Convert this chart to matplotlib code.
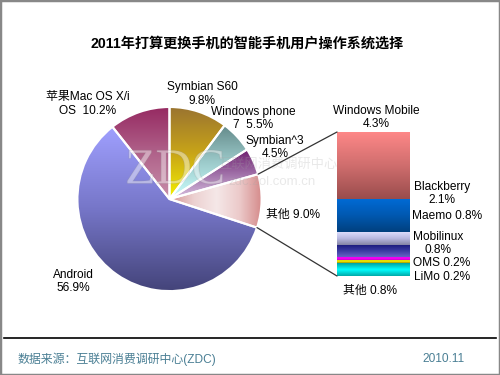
import numpy as np
import matplotlib
matplotlib.use("Agg")
import matplotlib.pyplot as plt
from matplotlib.colors import to_rgb
from matplotlib.patches import ConnectionPatch, Rectangle
import matplotlib.patheffects as pe

plt.rcParams['font.family'] = ['Liberation Sans', 'Noto Sans CJK SC', 'DejaVu Sans']

# ---------------- data ----------------
title = "2011年打算更换手机的智能手机用户操作系统选择"
pie_labels = ["Symbian S60", "Windows phone 7", "Symbian^3", "其他", "Android", "苹果Mac OS X/i OS"]
pie_values = [9.8, 5.5, 4.5, 9.0, 56.9, 10.2]
bar_labels = ["Windows Mobile", "Blackberry", "Maemo", "Mobilinux", "OMS", "LiMo", "其他"]
bar_values = [4.3, 2.1, 0.8, 0.8, 0.2, 0.2, 0.8]
source_text = "数据来源：互联网消费调研中心(ZDC)"
date_text = "2010.11"

# ---------------- styles ----------------
pie_grads = [
    (['#9a7430', '#c8a418', '#f4f000'], False),
    (['#648a8a', '#9ccaca', '#ccffff'], False),
    (['#6e1e6e', '#a070a8', '#d8c0e0'], False),
    (['#d49494', '#ecd0d0', '#f5e8e8', '#eccaca', '#d48888'], True),
    (['#a0a0ff', '#7676c8', '#44447a'], False),
    (['#962a62', '#b0628a', '#c890aa'], False),
]
bar_grads = [
    ['#ff8888', '#d06e6e', '#9a4c4c'],
    ['#006ad4', '#0058b0', '#00407e'],
    ['#dcdcfc', '#b8b8e0', '#8484a4'],
    ['#18187a', '#3a3aa0', '#6464c4'],
    ['#cc00cc', '#ff00ff', '#cc00cc'],
    ['#a09000', '#ffff00', '#a09000'],
    ['#00a0a0', '#00ffff', '#00a8a8'],
]

W, H = 500, 375
def Y(y):
    return H - y

def grad_img(stops, horizontal=False, n=128):
    cols = np.array([to_rgb(c) for c in stops])
    t = np.linspace(0, 1, n)
    pos = np.linspace(0, 1, len(stops))
    arr = np.stack([np.interp(t, pos, cols[:, k]) for k in range(3)], axis=-1)
    return arr[None, :, :] if horizontal else arr[:, None, :]

fig = plt.figure(figsize=(5, 3.75), dpi=100)
fig.patch.set_facecolor('white')
ax = fig.add_axes([0, 0, 1, 1])

fs = 8.6

# ---------------- pie ----------------
explode = [0, 0, 0, 0.07, 0.1, 0]
center = (169.5, Y(199))
R = 92
wedges, _ = ax.pie(pie_values, startangle=90, counterclock=False, center=center,
                   radius=R, explode=explode, colors=['none'] * len(pie_values),
                   wedgeprops=dict(edgecolor='white', linewidth=1.5))
for w, (stops, horiz) in zip(wedges, pie_grads):
    ext = w.get_path().get_extents()
    im = ax.imshow(grad_img(stops, horiz), extent=(ext.x0, ext.x1, ext.y0, ext.y1),
                   origin='upper', aspect='auto', zorder=1, interpolation='bilinear')
    im.set_clip_path(w)
    w.set_zorder(2)

ax.set_xlim(0, W)
ax.set_ylim(0, H)
ax.set_aspect('auto')
ax.axis('off')

# ---------------- watermark ----------------
ax.text(175, Y(171), "ZDC", family='Liberation Serif', fontsize=36, ha='center', va='center',
        color=(1, 1, 1, 0.25), zorder=3,
        path_effects=[pe.withStroke(linewidth=1.0, foreground=(0.6, 0.6, 0.6, 0.22))])
ax.text(278, Y(165), "互联网消费调研中心", fontsize=9.5, ha='center', va='center',
        color=(0.65, 0.65, 0.65, 0.25), zorder=3)
ax.text(272, Y(182), "zdc.zol.com.cn", fontsize=9.5, ha='center', va='center',
        color=(0.65, 0.65, 0.65, 0.25), zorder=3)

# ---------------- pie labels ----------------
def lab(x, y, s, **kw):
    ax.text(x, Y(y), s, fontsize=fs, ha='center', va='center', multialignment='center',
            linespacing=1.15, zorder=5, **kw)

lab(202, 94, "Symbian S60\n9.8%")
lab(253, 118.5, "Windows phone\n7  5.5%")
lab(275, 147.5, "Symbian^3\n4.5%")
lab(293, 215, "其他 9.0%")
lab(73, 281.5, "Android\n56.9%")
lab(88, 104, "苹果Mac OS X/i\nOS  10.2%")

# ---------------- bar ----------------
bx0, bx1, by0, by1 = 337, 410, 132, 276
ax2 = fig.add_axes([bx0 / W, (H - by1) / H, (bx1 - bx0) / W, (by1 - by0) / H])
bottoms = np.concatenate([[0], np.cumsum(bar_values)[:-1]])
total = float(np.sum(bar_values))
bars = ax2.bar([0] * len(bar_values), bar_values, bottom=bottoms, width=1.0,
               color='none', edgecolor='none')
for b, v, stops in zip(bars, bottoms, bar_grads):
    h = b.get_height()
    im = ax2.imshow(grad_img(stops), extent=(-0.5, 0.5, v + h, v), origin='upper',
                    aspect='auto', interpolation='bilinear')
    im.set_clip_path(b)
ax2.set_xlim(-0.5, 0.5)
ax2.set_ylim(total, 0)
ax2.axis('off')

# bar labels
lab(376, 117.5, "Windows Mobile\n4.3%")
lab(442, 193.5, "Blackberry\n2.1%")
lab(447, 216, "Maemo 0.8%")
lab(438, 243.5, "Mobilinux\n0.8%")
lab(442, 263, "OMS 0.2%")
lab(442, 277, "LiMo 0.2%")
lab(370, 291, "其他 0.8%")

# ---------------- connector lines ----------------
ow = wedges[3]
oc = ow.center
for ang, corner in [(ow.theta2, (0, 1)), (ow.theta1, (0, 0))]:
    p = (oc[0] + R * np.cos(np.radians(ang)), oc[1] + R * np.sin(np.radians(ang)))
    con = ConnectionPatch(xyA=p, coordsA=ax.transData, xyB=corner, coordsB=ax2.transAxes,
                          color='#333333', linewidth=0.9, zorder=6)
    fig.add_artist(con)

# ---------------- title & footer ----------------
ax.text(247, Y(44), title, fontsize=10.2, fontweight='bold', ha='center', va='center')
ax.plot([4, 496], [Y(338), Y(338)], color='black', linewidth=1.2)
ax.text(17, Y(359), source_text, fontsize=8.6, ha='left', va='center', color='#4a7f94')
ax.text(465, Y(359), date_text, fontsize=8.6, ha='right', va='center', color='#4a7f94')

fig.add_artist(Rectangle((0, 0), 1, 1, transform=fig.transFigure, fill=False,
                         edgecolor='#888888', linewidth=2.5))

fig.savefig("out.png", dpi=100, facecolor='white')
